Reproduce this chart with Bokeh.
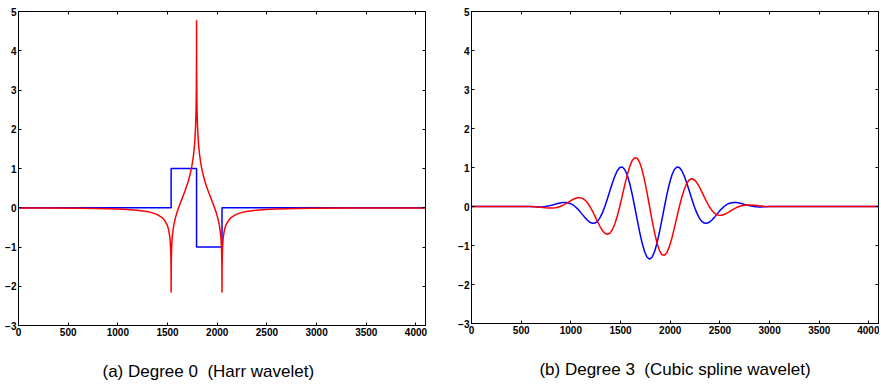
from bokeh.plotting import figure
from bokeh.layouts import row
from bokeh.models import Range1d, LinearAxis, FixedTicker, Title
from bokeh.embed import file_html
from bokeh.resources import INLINE

# ---------------- data ----------------
x_ticks = [0, 500, 1000, 1500, 2000, 2500, 3000, 3500, 4000]
y_ticks = [-3, -2, -1, 0, 1, 2, 3, 4, 5]
y_tick_labels = {-3: "\u22123", -2: "\u22122", -1: "\u22121", 0: "0", 1: "1", 2: "2", 3: "3", 4: "4", 5: "5"}

# (a) Haar wavelet (blue) and its Hilbert pair (red)
haar_x = [0, 1536, 1536, 1792, 1792, 2048, 2048, 4096]
haar_y = [0, 0, 1, 1, -1, -1, 0, 0]

haar_h_x = [0, 292, 592, 792, 992, 1092, 1192, 1292, 1342, 1392, 1442, 1467, 1492, 1502, 1512,
            1522, 1527, 1532, 1534, 1535, 1535.5, 1535.86, 1536.14, 1536.3, 1537, 1539, 1542,
            1547, 1552, 1562, 1577, 1592, 1611, 1632, 1647, 1662, 1677, 1692, 1707, 1722, 1732,
            1742, 1752, 1762, 1772, 1777, 1782, 1786, 1788, 1790, 1791, 1791.5, 1792,
            1792.5, 1793, 1794, 1796, 1798, 1802, 1807, 1812, 1822, 1832, 1842, 1852, 1862, 1877,
            1892, 1907, 1922, 1937, 1952, 1973, 1992, 2007, 2022, 2032, 2037, 2042, 2045, 2047,
            2047.7, 2047.86, 2048.14, 2048.5, 2049, 2050, 2052, 2057, 2062, 2072, 2082, 2092,
            2117, 2142, 2192, 2242, 2292, 2392, 2492, 2592, 2792, 2992, 3292, 3584, 3792, 4096]
haar_h_y = [-0.0066, -0.0094, -0.015, -0.022, -0.034, -0.046, -0.064, -0.097, -0.124, -0.168,
            -0.244, -0.308, -0.415, -0.481, -0.575, -0.730, -0.861, -1.111, -1.327, -1.546,
            -1.766, -2.15, -2.15, -1.927, -1.543, -1.189, -0.963, -0.760, -0.631, -0.456,
            -0.278, -0.143, 0.0, 0.142, 0.239, 0.336, 0.438, 0.546, 0.665, 0.801, 0.906, 1.027,
            1.174, 1.361, 1.621, 1.810, 2.064, 2.389, 2.648, 3.089, 3.530, 3.972, 4.78,
            3.972, 3.530, 3.089, 2.648, 2.389, 2.064, 1.810, 1.621, 1.361, 1.174, 1.027, 0.906,
            0.801, 0.665, 0.546, 0.438, 0.336, 0.239, 0.142, 0.0, -0.143, -0.278, -0.456, -0.631,
            -0.760, -0.963, -1.189, -1.543, -1.927, -2.15, -2.15, -1.766, -1.546, -1.327, -1.111,
            -0.861, -0.730, -0.575, -0.481, -0.415, -0.308, -0.244, -0.168, -0.124, -0.097,
            -0.064, -0.046, -0.034, -0.022, -0.015, -0.0094, -0.0066, -0.0053, -0.0040]

# (b) Cubic spline wavelet (blue) and its Hilbert pair (red)
spline_x = [0] + list(range(592, 2993, 25)) + [4096]
spline_y = [0.0,
            -0.003, -0.006, -0.009, -0.011, -0.011, -0.007, 0.000, 0.010, 0.024, 0.040, 0.057, 0.075,
            0.090, 0.101, 0.104, 0.098, 0.079, 0.047, 0.000, -0.060, -0.131, -0.208, -0.285, -0.353,
            -0.405, -0.432, -0.425, -0.380, -0.293, -0.164, 0.000, 0.191, 0.395, 0.596, 0.776, 0.916,
            0.999, 1.013, 0.949, 0.806, 0.591, 0.315, 0.000, -0.332, -0.653, -0.937, -1.159, -1.301,
            -1.350,
            -1.301, -1.159, -0.937, -0.653, -0.332, 0.000, 0.315, 0.591, 0.806, 0.949, 1.013, 0.999,
            0.916, 0.776, 0.596, 0.395, 0.191, 0.000, -0.164, -0.293, -0.380, -0.425, -0.432, -0.405,
            -0.353, -0.285, -0.208, -0.131, -0.060, 0.000, 0.047, 0.079, 0.098, 0.104, 0.101, 0.090,
            0.075, 0.057, 0.040, 0.024, 0.010, 0.000, -0.007, -0.011, -0.011, -0.009, -0.006, -0.003,
            0.0]
spline_h_y = [0.0,
              0.000, -0.003, -0.008, -0.014, -0.020, -0.027, -0.034, -0.039, -0.041, -0.040, -0.033, -0.020,
              0.000, 0.027, 0.060, 0.098, 0.137, 0.175, 0.206, 0.225, 0.227, 0.208, 0.164, 0.095,
              0.000, -0.116, -0.245, -0.380, -0.507, -0.613, -0.686, -0.713, -0.685, -0.596, -0.448, -0.245,
              0.000, 0.271, 0.548, 0.806, 1.023, 1.177, 1.252, 1.238, 1.131, 0.937, 0.669, 0.349,
              0.000,
              -0.349, -0.669, -0.937, -1.131, -1.238, -1.252, -1.177, -1.023, -0.806, -0.548, -0.271, 0.000,
              0.245, 0.448, 0.596, 0.685, 0.713, 0.686, 0.613, 0.507, 0.380, 0.245, 0.116, 0.000,
              -0.095, -0.164, -0.208, -0.227, -0.225, -0.206, -0.175, -0.137, -0.098, -0.060, -0.027, 0.000,
              0.020, 0.033, 0.040, 0.041, 0.039, 0.034, 0.027, 0.020, 0.014, 0.008, 0.003, 0.000,
              0.0]

captions = ["(a) Degree 0 \u00a0(Harr wavelet)", "(b) Degree 3 \u00a0(Cubic spline wavelet)"]

FONT = "Liberation Sans"


def style_axis(ax, show_labels=True):
    ax.major_tick_in = 3
    ax.major_tick_out = 0
    ax.minor_tick_in = 0
    ax.minor_tick_out = 0
    ax.axis_line_color = "black"
    ax.axis_line_width = 1
    ax.major_tick_line_color = "black"
    ax.major_tick_line_width = 1
    ax.major_label_text_font = FONT
    ax.major_label_text_font_style = "bold"
    if show_labels:
        ax.major_label_text_color = "black"
        ax.major_label_text_font_size = "10px"
        ax.major_label_standoff = 2
    else:
        # tick marks only on the mirrored sides: no label text is drawn
        ax.major_label_text_color = None
        ax.major_label_text_font_size = "1px"
        ax.major_label_standoff = 0


def make_panel(border_left, border_right, border_top, frame_h, caption, cap_align, cap_offset):
    p = figure(frame_width=407, frame_height=frame_h,
               min_border_left=border_left, min_border_right=border_right,
               min_border_top=border_top, min_border_bottom=0,
               x_range=Range1d(0, 4096), y_range=Range1d(-3, 5),
               output_backend="svg", toolbar_location=None)
    p.xgrid.visible = False
    p.ygrid.visible = False
    p.outline_line_color = "black"
    p.outline_line_width = 1
    p.background_fill_color = "white"
    p.border_fill_color = "white"

    p.xaxis.ticker = FixedTicker(ticks=x_ticks)
    p.yaxis.ticker = FixedTicker(ticks=y_ticks)
    p.yaxis.major_label_overrides = y_tick_labels
    for ax in list(p.xaxis) + list(p.yaxis):
        style_axis(ax, True)

    top = LinearAxis(ticker=FixedTicker(ticks=x_ticks))
    right = LinearAxis(ticker=FixedTicker(ticks=y_ticks))
    style_axis(top, False)
    style_axis(right, False)
    p.add_layout(top, "above")
    p.add_layout(right, "right")

    t = Title(text=caption, align=cap_align, offset=cap_offset,
              text_font=FONT, text_font_size="17px", text_font_style="normal",
              text_color="black", standoff=42)
    p.add_layout(t, "below")
    return p


p1 = make_panel(18, 15, 9, 314, captions[0], "left", 84)
p1.line(haar_x, haar_y, line_color="#0000ff", line_width=1.5)
p1.line(haar_h_x, haar_h_y, line_color="#ff0000", line_width=1.5)

p2 = make_panel(31, 1, 11, 312, captions[1], "center", 0)
p2.line(spline_x, spline_y, line_color="#0000ff", line_width=1.5)
p2.line(spline_x, spline_h_y, line_color="#ff0000", line_width=1.5)

layout = row(p1, p2, spacing=0)
open("out.html", "w").write(file_html(layout, INLINE))
